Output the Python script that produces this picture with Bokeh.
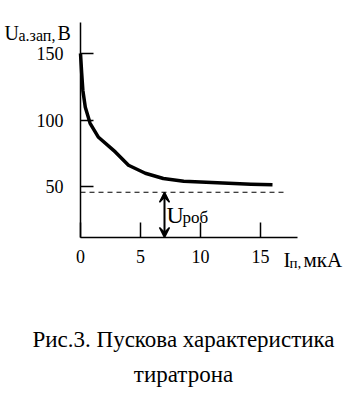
from bokeh.plotting import figure
from bokeh.models import Range1d, FixedTicker, Label, Arrow, VeeHead
from bokeh.embed import file_html
from bokeh.resources import INLINE

# ---- data ----
I_curve = [0.0, 0.1, 0.2, 0.4, 0.8, 1.5, 2.9, 4.0, 5.4, 6.9, 8.6, 11.4, 14.2, 16.0]
U_curve = [150, 135, 122, 109.5, 97.5, 87, 76, 66, 60, 56, 54, 52.8, 51.7, 51.3]
x_ticks = [0, 5, 10, 15]
y_ticks = [50, 100, 150]
U_rob_level = 45.7
dash_x = [0, 17]
arrow_I = 7
x_axis_extent = (0, 18.08)
y_axis_extent = (11.65, 173.3)
x_view = (-6.667, 23.667)
y_view = (-113.9, 189.85)

FONT = "'Liberation Serif', 'Times New Roman', serif"
W, H = 364, 404

p = figure(width=W, height=H,
           x_range=Range1d(*x_view), y_range=Range1d(*y_view),
           output_backend="svg", toolbar_location=None,
           min_border=0)
p.outline_line_color = None
p.grid.visible = False
p.background_fill_color = "white"
p.border_fill_color = "white"

for ax in (p.xaxis[0], p.yaxis[0]):
    ax.axis_line_width = 1.5
    ax.axis_line_color = "black"
    ax.major_tick_line_width = 1.5
    ax.major_tick_line_color = "black"
    ax.major_tick_out = 0
    ax.minor_tick_in = 0
    ax.minor_tick_out = 0
    ax.major_label_text_font = FONT
    ax.major_label_text_font_size = "18px"
    ax.major_label_text_color = "black"

p.xaxis.ticker = FixedTicker(ticks=x_ticks)
p.xaxis.major_tick_in = 15
p.xaxis.major_label_standoff = 12
p.xaxis.bounds = x_axis_extent
p.xaxis.fixed_location = y_axis_extent[0]

p.yaxis.ticker = FixedTicker(ticks=y_ticks)
p.yaxis.major_tick_in = 13
p.yaxis.major_label_standoff = 17
p.yaxis.bounds = y_axis_extent
p.yaxis.fixed_location = x_axis_extent[0]

# curve
p.line(I_curve, U_curve, line_width=3.5, line_color="black", line_join="round")

# dashed level
p.segment(x0=[dash_x[0]], y0=[U_rob_level], x1=[dash_x[1]], y1=[U_rob_level],
          line_color="black", line_width=1.2, line_dash="5 4")

# double arrow
p.add_layout(Arrow(x_start=arrow_I, y_start=y_axis_extent[0], x_end=arrow_I, y_end=U_rob_level,
                   line_width=2, line_color="black",
                   start=VeeHead(size=10, fill_color="black", line_color="black", line_width=1.5),
                   end=VeeHead(size=10, fill_color="black", line_color="black", line_width=1.5)))

DY = 8  # label baseline correction


def lab(text, px, py, size, align="left"):
    return Label(x=px, y=H - py + DY, x_units="screen", y_units="screen",
                 text=text, text_font=FONT, text_font_size=size,
                 text_color="black", text_align=align, text_baseline="alphabetic")

# y-axis name: U_а.зап, В
p.add_layout(lab("U", 4, 40, "20px"))
p.add_layout(lab("а.зап,", 18, 43, "16px"))
p.add_layout(lab("В", 57, 40, "20px"))

# x-axis name: I_п, мкА
p.add_layout(lab("I", 283, 267, "21px"))
p.add_layout(lab("п,", 289, 270, "15px"))
p.add_layout(lab("мкА", 303, 267, "21px"))

# U_роб
p.add_layout(lab("U", 166, 222, "24px"))
p.add_layout(lab("роб", 182, 225, "17px"))

# caption
p.add_layout(lab("Рис.3. Пускова характеристика", 183, 347, "23px", "center"))
p.add_layout(lab("тиратрона", 183, 382, "23px", "center"))

open("out.html", "w").write(file_html(p, INLINE))
